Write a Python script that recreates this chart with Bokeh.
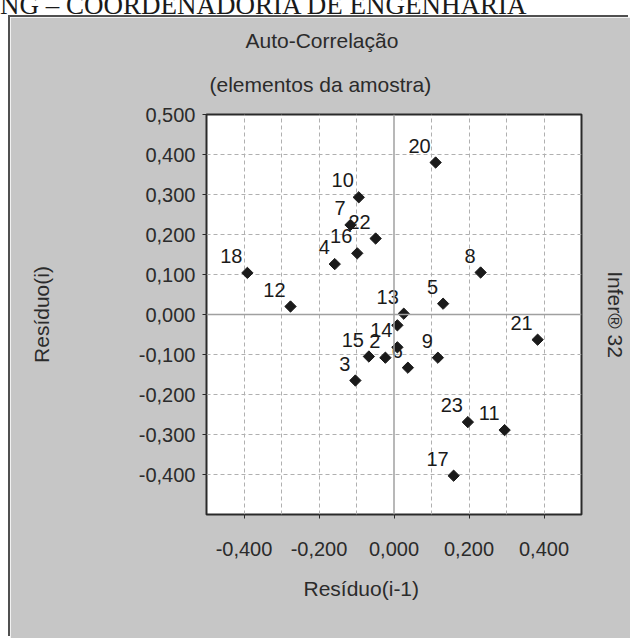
import math
from bokeh.plotting import figure
from bokeh.models import (ColumnDataSource, Range1d, FixedTicker, CustomJSTickFormatter,
                          Span, Title, LinearAxis, Div)
from bokeh.layouts import column
from bokeh.embed import file_html
from bokeh.resources import INLINE
from bokeh.core.properties import value

# ---- data ----
point_ids = ["2", "3", "4", "5", "6", "7", "8", "9", "10", "11", "12",
             "13", "14", "15", "16", "17", "18", "19", "20", "21", "22", "23"]
residuo_prev = [-0.023, -0.103, -0.158, 0.131, 0.037, -0.116, 0.231, 0.117, -0.094, 0.295, -0.276,
                0.026, 0.009, -0.067, -0.098, 0.159, -0.391, 0.009, 0.111, 0.383, -0.049, 0.197]
residuo_curr = [-0.108, -0.165, 0.126, 0.027, -0.133, 0.224, 0.105, -0.108, 0.293, -0.289, 0.020,
                0.002, -0.082, -0.105, 0.153, -0.403, 0.104, -0.027, 0.380, -0.063, 0.190, -0.269]
# label of point 19 is hidden by overlap in the reference
shown_labels = [pid if pid != "19" else "" for pid in point_ids]

x_ticks = [-0.4, -0.2, 0.0, 0.2, 0.4]
y_ticks = [-0.4, -0.3, -0.2, -0.1, 0.0, 0.1, 0.2, 0.3, 0.4, 0.5]
grid_ticks = [-0.4, -0.3, -0.2, -0.1, 0.1, 0.2, 0.3, 0.4]

title_1 = "Auto-Correlação"
title_2 = "(elementos da amostra)"
x_label = "Resíduo(i-1)"
y_label = "Resíduo(i)"
side_label = "Infer® 32"
header_text = "NG – COORDENADORIA DE ENGENHARIA"

FONT = "Liberation Sans"
TXT = "#2b2b2b"
PANEL = "#c6c6c6"

# ---- header strip of the scanned page (cut at its top) ----
header = Div(
    text=('<div style="height:17px;width:632px;overflow:hidden;background:white;">'
          '<div style="position:relative;top:-8px;left:0px;white-space:nowrap;'
          "font-family:'Liberation Serif';font-size:27px;line-height:27px;color:#1a1a1a;\">"
          + header_text + '</div></div>'),
    width=632, height=17, margin=0)

# ---- main chart ----
p = figure(width=620, height=621, output_backend="svg", toolbar_location=None,
           x_range=Range1d(-0.5, 0.5), y_range=Range1d(-0.5, 0.5),
           min_border_left=196, min_border_right=49,
           min_border_top=97, min_border_bottom=124,
           margin=(0, 2, 0, 10),
           styles={"box-shadow": "-2px -2px 0 0 #505050"})
p.border_fill_color = PANEL
p.background_fill_color = "white"
p.outline_line_color = "#2a2a2a"
p.outline_line_width = 2

fmt = CustomJSTickFormatter(code="return tick.toFixed(3).replace('.', ',');")
for ax, ticks in ((p.xaxis, x_ticks), (p.yaxis, y_ticks)):
    ax.ticker = FixedTicker(ticks=ticks)
    ax.formatter = fmt
    ax.major_label_text_font = FONT
    ax.major_label_text_font_size = "20px"
    ax.major_label_text_color = TXT
    ax.axis_line_color = None
    ax.major_tick_line_color = "#2a2a2a"
    ax.major_tick_in = 0
    ax.major_tick_out = 4
    ax.minor_tick_line_color = None
p.xaxis.major_label_standoff = 23
p.yaxis.major_label_standoff = 7

p.yaxis.axis_label = y_label
p.yaxis.axis_label_standoff = 83
p.yaxis.axis_label_text_font = FONT
p.yaxis.axis_label_text_font_size = "21px"
p.yaxis.axis_label_text_font_style = "normal"
p.yaxis.axis_label_text_color = TXT

right_axis = LinearAxis(ticker=FixedTicker(ticks=[]), axis_label=side_label,
                        axis_line_color=None, major_tick_line_color=None,
                        minor_tick_line_color=None, major_tick_out=0,
                        axis_label_standoff=22, axis_label_text_font=FONT,
                        axis_label_text_font_size="21px",
                        axis_label_text_font_style="normal",
                        axis_label_text_color=TXT)
p.add_layout(right_axis, "right")

for g in (p.xgrid, p.ygrid):
    g.ticker = FixedTicker(ticks=grid_ticks)
    g.grid_line_color = "#b0b0b0"
    g.grid_line_dash = "4 3"
    g.grid_line_width = 1

p.add_layout(Span(location=0, dimension="height", line_color="#a0a0a0", line_width=1.5))
p.add_layout(Span(location=0, dimension="width", line_color="#a0a0a0", line_width=1.5))

src = ColumnDataSource(dict(x=residuo_prev, y=residuo_curr, lab=shown_labels))
p.scatter("x", "y", source=src, marker="square", angle=math.pi / 4, size=8,
          fill_color="#1a1a1a", line_color="#1a1a1a")
p.text("x", "y", text="lab", source=src, x_offset=-5, y_offset=-17,
       text_align="right", text_baseline="middle", text_font=value(FONT),
       text_font_size="20px", text_color="#1a1a1a")

# titles (closest to the frame added first)
p.add_layout(Title(text=title_2, align="left", offset=3, vertical_align="bottom",
                   standoff=38, text_font=FONT, text_font_size="21px",
                   text_font_style="normal", text_color=TXT), "above")
p.add_layout(Title(text=title_1, align="left", offset=39, vertical_align="bottom",
                   standoff=0, text_font=FONT, text_font_size="21px",
                   text_font_style="normal", text_color=TXT), "above")
p.add_layout(Title(text=x_label, align="left", offset=97, vertical_align="top",
                   standoff=36, text_font=FONT, text_font_size="21px",
                   text_font_style="normal", text_color=TXT), "below")

layout = column(header, p, spacing=0)
open("out.html", "w").write(file_html(layout, INLINE))
